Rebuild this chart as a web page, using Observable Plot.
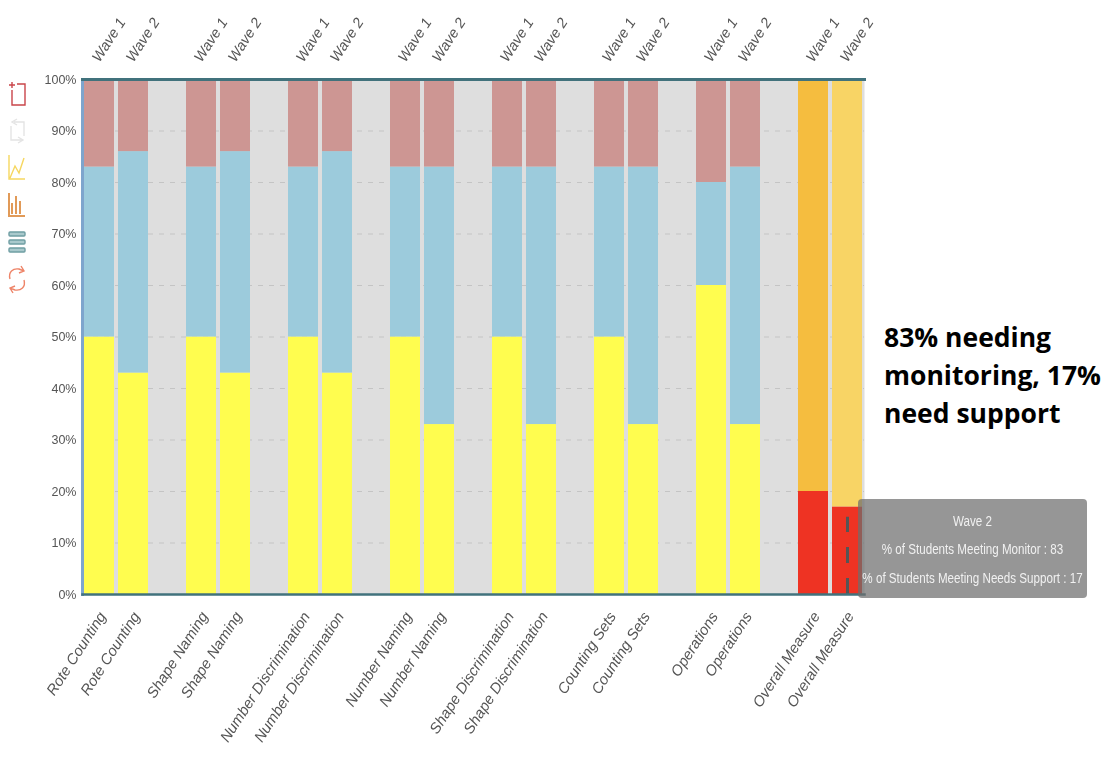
<!DOCTYPE html>
<html>
<head>
<meta charset="utf-8">
<script src="https://cdn.jsdelivr.net/npm/d3@7"></script>
<script src="https://cdn.jsdelivr.net/npm/@observablehq/plot@0.6"></script>
<style>
html,body{margin:0;padding:0;background:#fff;}
#wrap{position:relative;width:1107px;height:766px;overflow:hidden;}
#chart svg{display:block;filter:blur(.45px);}
#note{position:absolute;left:884px;top:318px;font:700 26.5px/38px "Open Sans",sans-serif;color:#000;white-space:nowrap;}
#tip{position:absolute;left:858px;top:499px;width:229px;height:99px;background:rgba(110,110,110,.72);border-radius:4px;filter:blur(.3px);}
#tip div{position:absolute;left:-60px;width:349px;text-align:center;color:#f1f1f1;font:14px/18px "Liberation Sans",sans-serif;transform:scaleX(.83);white-space:nowrap;}
#icons{position:absolute;left:0;top:0;filter:blur(.4px);}
</style>
</head>
<body>
<div id="wrap">
<div id="chart"></div>
<svg id="icons" width="40" height="300" fill="none" stroke-width="1.4">
  <path d="M17 84H25V105H12V90M9 85H15M12 82V88" stroke="#c9454a"/>
  <path d="M14 122H24V136M22 140H11V126M17 119L12 122L17 125M18 137L23 140L18 143" stroke="#e4e4e4"/>
  <path d="M9 155V179H25M10 178L15 166L19 173L24 158" stroke="#f6d760"/>
  <path d="M9 193V216H25M12 214V203M16 214V196M20 214V201" stroke="#e19a58" stroke-width="2"/>
  <g stroke="#6f9ea3" fill="#a9c9cc"><rect x="9" y="232" width="16" height="4" rx="1"/><rect x="9" y="240" width="16" height="4" rx="1"/><rect x="9" y="248" width="16" height="4" rx="1"/></g>
  <path d="M10 279C8 272 13 268 19 269L24 271M21 266L24 271L19 273M24 280C26 287 21 291 15 290L10 288M13 293L10 288L15 286" stroke="#ee8468"/>
</svg>
<div id="note">83% needing<br>monitoring, 17%<br>need support</div>
<div id="tip"><div style="top:13px">Wave 2</div><div style="top:41px">% of Students Meeting Monitor : 83</div><div style="top:70px">% of Students Meeting Needs Support : 17</div></div>
</div>
<script>
const skills = ["Rote Counting","Shape Naming","Number Discrimination","Number Naming","Shape Discrimination","Counting Sets","Operations","Overall Measure"];
const waves = ["Wave 1","Wave 2"];
// per bar: skill order, wave 1 then wave 2
const yellowValues = [50,43, 50,43, 50,43, 50,33, 50,33, 50,33, 60,33];
const blueValues   = [33,43, 33,43, 33,43, 33,50, 33,50, 33,50, 20,50];
const pinkValues   = [17,14, 17,14, 17,14, 17,17, 17,17, 17,17, 20,17];
const overallSupport = [20,17];
const overallMonitor = [80,83];
const yTicks = [0,10,20,30,40,50,60,70,80,90,100];
const seriesNames = ["yellow","blue","pink","red1","red2","orange1","orange2"];
const seriesColors = ["#fffd4f","#9ccbdc","#cd9693","#ee3323","#ee3323","#f5bd3f","#f8d465"];

const slots = [];
skills.forEach((s,i)=>{
  slots.push(`${i}-0`,`${i}-1`);
  if(i<skills.length-1) slots.push(`${i}-gap`);
});
const bars = [], labels = [];
skills.forEach((s,i)=>waves.forEach((w,j)=>{
  const slot = `${i}-${j}`, k = i*2+j;
  labels.push({slot,skill:s,wave:w});
  if(i<7){
    bars.push({slot,series:"yellow",value:yellowValues[k]});
    bars.push({slot,series:"blue",value:blueValues[k]});
    bars.push({slot,series:"pink",value:pinkValues[k]});
  } else {
    bars.push({slot,series:j?"red2":"red1",value:overallSupport[j]});
    bars.push({slot,series:j?"orange2":"orange1",value:overallMonitor[j]});
  }
}));

const axisFont = "Liberation Sans, sans-serif";
const chart = Plot.plot({
  width:1107, height:766,
  marginLeft:82, marginRight:243, marginTop:79, marginBottom:172,
  style:{background:"transparent",fontFamily:"Liberation Sans, sans-serif"},
  x:{type:"band",domain:slots,paddingInner:0.12,paddingOuter:0.06,axis:null},
  y:{domain:[0,100],axis:null},
  color:{domain:seriesNames,range:seriesColors},
  marks:[
    Plot.frame({fill:"#dedede",stroke:"none"}),
    Plot.gridY(yTicks,{stroke:"#c4c4c4",strokeOpacity:1,strokeDasharray:"5 6"}),
    Plot.barY(bars,{x:"slot",y:"value",fill:"series"}),
    Plot.ruleX(["7-1"],{y1:0,y2:15,stroke:"#555",strokeWidth:3,strokeDasharray:"16 15"}),
    Plot.axisY(yTicks,{tickSize:0,tickPadding:6,label:null,tickFormat:d=>d+"%",fontSize:12.5,fontFamily:axisFont,fill:"#555"}),
    Plot.text(labels,{x:"slot",y:()=>100,text:"wave",rotate:-57,textAnchor:"start",dx:-4,dy:-19,fontSize:14.5,fontStyle:"italic",fontFamily:axisFont,fill:"#555"}),
    Plot.text(labels,{x:"slot",y:()=>0,text:"skill",rotate:-57,textAnchor:"end",dx:3,dy:19,fontSize:15,fontStyle:"italic",fontFamily:axisFont,fill:"#555"}),
    Plot.frame({anchor:"left",stroke:"#7ea5cd",strokeWidth:3}),
    Plot.frame({anchor:"top",stroke:"#41727c",strokeWidth:3}),
    Plot.frame({anchor:"bottom",stroke:"#41727c",strokeWidth:2.5})
  ]
});
document.getElementById("chart").appendChild(chart);
</script>
</body>
</html>
